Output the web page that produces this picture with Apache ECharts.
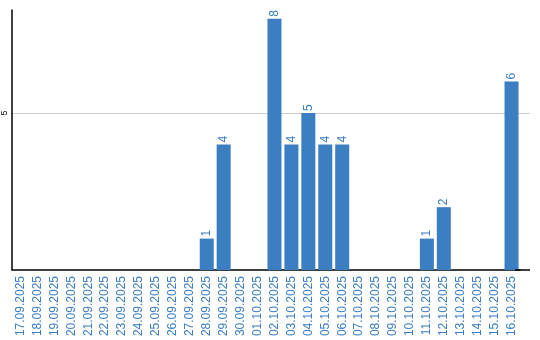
<!DOCTYPE html>
<html>
<head>
<meta charset="utf-8">
<script src="https://cdn.jsdelivr.net/npm/echarts@6/dist/echarts.min.js"></script>
<style>html,body{margin:0;padding:0;background:#fff;}#c{width:540px;height:340px;}</style>
</head>
<body>
<div id="c"></div>
<script>
var categories = ["17.09.2025","18.09.2025","19.09.2025","20.09.2025","21.09.2025","22.09.2025","23.09.2025","24.09.2025","25.09.2025","26.09.2025","27.09.2025","28.09.2025","29.09.2025","30.09.2025","01.10.2025","02.10.2025","03.10.2025","04.10.2025","05.10.2025","06.10.2025","07.10.2025","08.10.2025","09.10.2025","10.10.2025","11.10.2025","12.10.2025","13.10.2025","14.10.2025","15.10.2025","16.10.2025"];
var values = [null,null,null,null,null,null,null,null,null,null,null,1,4,null,null,8,4,5,4,4,null,null,null,null,1,2,null,null,null,6];
var gridLines = [5];
var blue = '#3b7ec2';
var chart = echarts.init(document.getElementById('c'), null, {renderer:'canvas'});
var option = {
  animation:false,
  grid:{left:10,top:10,width:510,height:260,containLabel:false},
  xAxis:{type:'category',data:categories,
    axisLine:{lineStyle:{color:'#000',width:1.5}},
    axisTick:{show:false},
    axisLabel:{rotate:90,interval:0,color:blue,fontSize:12,fontFamily:'Liberation Sans, Arial, sans-serif',margin:6}},
  yAxis:{type:'value',min:0,max:8.28,interval:5,
    axisLine:{show:true,lineStyle:{color:'#000',width:1.5}},
    axisTick:{show:false},
    splitLine:{show:false},
    axisLabel:{rotate:90,color:'#000',fontSize:9,fontFamily:'Liberation Sans, Arial, sans-serif',margin:3,
      formatter:function(v){return v===5?'5':'';}}},
  series:[{type:'bar',data:values,barWidth:14,itemStyle:{color:blue},z:3,
    label:{show:true,position:'top',rotate:90,align:'left',verticalAlign:'middle',distance:2,color:blue,fontSize:12,fontFamily:'Liberation Sans, Arial, sans-serif'}}]
};
chart.setOption(option);
var plotRight = 530;
var g = [];
gridLines.forEach(function(v){
  var y = Math.round(chart.convertToPixel({yAxisIndex:0}, v)) + 0.5;
  g.push({type:'line',z:0,silent:true,shape:{x1:11,y1:y,x2:plotRight,y2:y},style:{stroke:'#cccccc',lineWidth:1}});
});
var y0 = chart.convertToPixel({yAxisIndex:0}, 0);
g.push({type:'line',z:10,silent:true,shape:{x1:515,y1:y0,x2:plotRight,y2:y0},style:{stroke:'#000',lineWidth:1.5}});
chart.setOption({graphic:g});
</script>
</body>
</html>
